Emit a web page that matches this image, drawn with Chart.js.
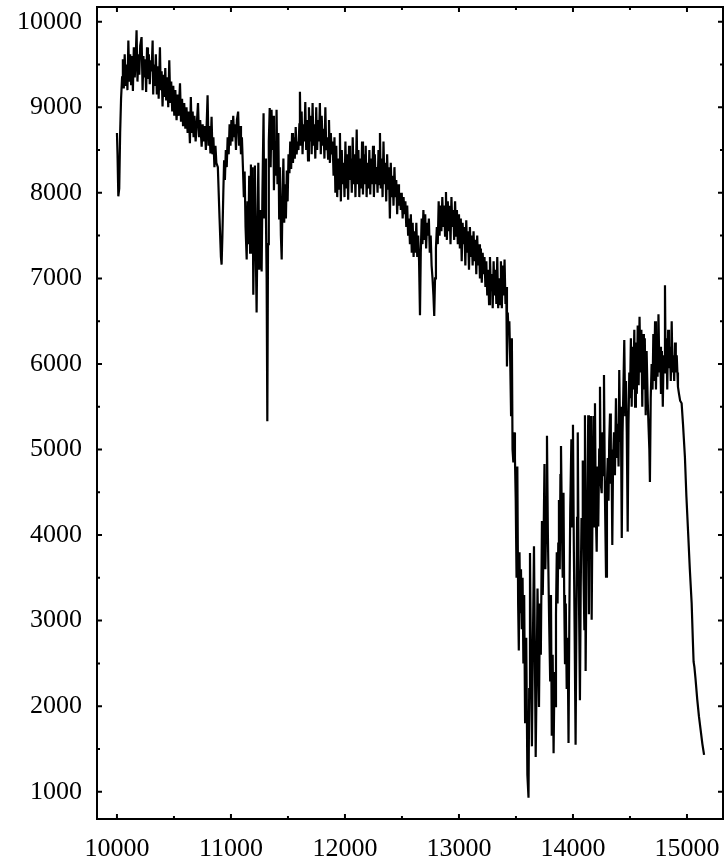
<!DOCTYPE html>
<html>
<head>
<meta charset="utf-8">
<title>Spectrum</title>
<script src="https://cdn.jsdelivr.net/npm/chart.js@4.4.1/dist/chart.umd.min.js"></script>
<style>
  html, body { margin: 0; padding: 0; background: #fff; overflow: hidden; }
  #wrap { width: 724px; height: 857px; }
</style>
</head>
<body>
<div id="wrap"><canvas id="spec" width="724" height="857"></canvas></div>
<script>
// DATA
const wavelength = [
  10000, 10005, 10012, 10020, 10028, 10036, 10045, 10052, 10060, 10068,
  10076, 10084, 10092, 10100, 10108, 10116, 10124, 10132, 10140, 10148,
  10156, 10164, 10172, 10180, 10188, 10196, 10204, 10216, 10225, 10232,
  10240, 10248, 10256, 10264, 10272, 10280, 10288, 10296, 10304, 10313,
  10318, 10325, 10333, 10341, 10350, 10358, 10366, 10377, 10384, 10392,
  10400, 10408, 10416, 10424, 10432, 10440, 10450, 10459, 10468, 10476,
  10485, 10494, 10503, 10512, 10523, 10532, 10541, 10553, 10562, 10571,
  10580, 10590, 10600, 10610, 10620, 10630, 10640, 10648, 10656, 10664,
  10672, 10680, 10690, 10700, 10711, 10720, 10730, 10743, 10752, 10760,
  10770, 10780, 10795, 10803, 10812, 10820, 10830, 10838, 10846, 10855,
  10864, 10872, 10885, 10900, 10912, 10918, 10925, 10933, 10940, 10947,
  10955, 10963, 10971, 10980, 10988, 10996, 11004, 11012, 11020, 11028,
  11036, 11044, 11052, 11063, 11071, 11080, 11088, 11096, 11105, 11113,
  11120, 11128, 11138, 11145, 11152, 11160, 11168, 11175, 11182, 11190,
  11196, 11203, 11210, 11218, 11225, 11232, 11240, 11248, 11255, 11262,
  11269, 11276, 11286, 11292, 11300, 11307, 11313, 11319, 11325, 11332,
  11340, 11348, 11356, 11364, 11372, 11377, 11385, 11393, 11400, 11408,
  11416, 11423, 11430, 11438, 11445, 11452, 11460, 11467, 11475, 11482,
  11490, 11497, 11505, 11513, 11520, 11528, 11536, 11544, 11552, 11560,
  11568, 11576, 11584, 11592, 11600, 11605, 11612, 11620, 11628, 11636,
  11644, 11652, 11660, 11668, 11676, 11684, 11692, 11700, 11708, 11716,
  11724, 11732, 11740, 11748, 11756, 11764, 11772, 11780, 11788, 11796,
  11804, 11812, 11820, 11828, 11836, 11844, 11852, 11860, 11868, 11876,
  11884, 11892, 11900, 11908, 11916, 11924, 11932, 11940, 11948, 11956,
  11964, 11972, 11980, 11988, 11996, 12004, 12012, 12020, 12028, 12036,
  12044, 12052, 12060, 12068, 12076, 12084, 12092, 12103, 12110, 12118,
  12126, 12134, 12142, 12150, 12158, 12166, 12174, 12182, 12190, 12198,
  12206, 12214, 12222, 12230, 12238, 12246, 12254, 12262, 12270, 12278,
  12286, 12294, 12300, 12307, 12314, 12322, 12330, 12338, 12346, 12354,
  12362, 12370, 12378, 12386, 12394, 12402, 12410, 12418, 12426, 12434,
  12442, 12450, 12458, 12466, 12474, 12482, 12490, 12498, 12506, 12514,
  12522, 12530, 12538, 12546, 12554, 12562, 12570, 12578, 12586, 12594,
  12602, 12610, 12618, 12626, 12634, 12642, 12650, 12658, 12665, 12673,
  12680, 12688, 12696, 12704, 12712, 12720, 12728, 12736, 12744, 12752,
  12760, 12768, 12776, 12783, 12790, 12798, 12806, 12814, 12822, 12830,
  12838, 12846, 12854, 12862, 12870, 12878, 12886, 12894, 12902, 12910,
  12918, 12926, 12934, 12942, 12950, 12958, 12966, 12974, 12982, 12990,
  13000, 13008, 13016, 13024, 13032, 13040, 13048, 13056, 13064, 13072,
  13080, 13088, 13096, 13104, 13112, 13120, 13128, 13136, 13144, 13152,
  13160, 13168, 13176, 13184, 13192, 13200, 13208, 13216, 13224, 13232,
  13240, 13248, 13256, 13264, 13272, 13280, 13288, 13296, 13304, 13312,
  13320, 13328, 13336, 13344, 13352, 13360, 13368, 13376, 13384, 13392,
  13400, 13408, 13415, 13421, 13428, 13435, 13442, 13450, 13457, 13464,
  13470, 13477, 13484, 13491, 13498, 13505, 13512, 13519, 13525, 13531,
  13537, 13544, 13551, 13558, 13565, 13572, 13580, 13590, 13600, 13610,
  13616, 13623, 13632, 13640, 13649, 13658, 13666, 13673, 13681, 13689,
  13696, 13702, 13710, 13718, 13728, 13735, 13742, 13750, 13758, 13765,
  13772, 13780, 13790, 13800, 13807, 13814, 13822, 13830, 13838, 13845,
  13851, 13858, 13865, 13871, 13877, 13884, 13890, 13895, 13903, 13910,
  13917, 13923, 13930, 13937, 13945, 13953, 13961, 13968, 13976, 13986,
  13992, 14000, 14008, 14015, 14023, 14030, 14036, 14042, 14050, 14056,
  14061, 14068, 14075, 14080, 14086, 14093, 14100, 14105, 14111, 14118,
  14127, 14134, 14140, 14146, 14152, 14158, 14164, 14172, 14180, 14186,
  14193, 14200, 14208, 14215, 14222, 14230, 14237, 14244, 14252, 14260,
  14265, 14272, 14280, 14290, 14298, 14305, 14312, 14318, 14325, 14332,
  14338, 14345, 14352, 14360, 14368, 14377, 14385, 14392, 14400, 14406,
  14414, 14420, 14428, 14435, 14442, 14450, 14458, 14465, 14472, 14480,
  14487, 14494, 14500, 14508, 14515, 14522, 14530, 14538, 14545, 14552,
  14560, 14568, 14576, 14584, 14592, 14600, 14608, 14615, 14622, 14630,
  14638, 14646, 14655, 14662, 14670, 14675, 14682, 14690, 14698, 14705,
  14712, 14720, 14728, 14735, 14742, 14750, 14758, 14765, 14772, 14780,
  14788, 14795, 14800, 14807, 14813, 14820, 14827, 14835, 14842, 14850,
  14858, 14866, 14873, 14880, 14888, 14895, 14902, 14910, 14916, 14921,
  14930, 14940, 14953, 14965, 14982, 14995, 15012, 15025, 15041, 15052,
  15058, 15065, 15075, 15090, 15105, 15120, 15135, 15150
];

const flux = [
  8700, 8450, 7960, 8050, 8700, 9100, 9350, 9560, 9220, 9620,
  9250, 9500, 9200, 9780, 9300, 9620, 9270, 9600, 9190, 9700,
  9350, 9550, 9900, 9300, 9620, 9380, 9720, 9820, 9200, 9600,
  9350, 9560, 9180, 9700, 9330, 9620, 9270, 9550, 9420, 9780,
  9150, 9500, 9250, 9620, 9150, 9480, 9100, 9700, 9200, 9420,
  9010, 9380, 9120, 9460, 9080, 9350, 9000, 9550, 9050, 9300,
  8950, 9250, 8900, 9200, 8850, 9150, 8900, 9280, 8830, 9100,
  8780, 9050, 8750, 9000, 8700, 8950, 8580, 9120, 8700, 8950,
  8650, 8900, 8600, 8800, 9050, 8650, 8850, 8540, 8800, 8600,
  8780, 8500, 9140, 8550, 8780, 8460, 8890, 8450, 8650, 8300,
  8550, 8350, 8300, 7700, 7250, 7160, 7500, 8000, 8380, 8150,
  8500, 8300, 8650, 8450, 8800, 8550, 8850, 8600, 8900, 8650,
  8800, 8500, 8850, 8950, 8550, 8780, 8450, 8650, 8300, 7950,
  8250, 7600, 7220, 7900, 7400, 8200, 7300, 8330, 7450, 8300,
  6810, 7600, 8320, 7300, 6600, 7500, 8350, 7100, 7800, 7300,
  7080, 8000, 8930, 7700, 8400, 7700, 7000, 5330, 7400, 8600,
  8990, 8300, 8970, 8500, 8900, 8030, 8600, 8200, 8970, 8100,
  8700, 7700, 8300, 7500, 7220, 7900, 8400, 7650, 8100, 7700,
  8260, 7900, 8450, 8230, 8600, 8280, 8700, 8350, 8650, 8400,
  8770, 8450, 8600, 8500, 8800, 9180, 8550, 8950, 8450, 8800,
  8600, 9060, 8500, 8850, 8380, 9000, 8600, 8900, 8450, 9050,
  8550, 8800, 8400, 9000, 8500, 8850, 8600, 9050, 8450, 8900,
  8550, 8750, 8400, 9000, 8500, 8650, 8400, 8850, 8350, 8700,
  8450, 8600, 8200, 8650, 8000, 8550, 7950, 8400, 8050, 8700,
  7900, 8500, 8100, 8350, 7950, 8600, 8050, 8450, 7920, 8550,
  8150, 8400, 8000, 8650, 8100, 8450, 7950, 8740, 8100, 8500,
  7950, 8400, 8050, 8600, 7980, 8450, 8100, 8550, 7950, 8350,
  8050, 8500, 7980, 8400, 8100, 8550, 7950, 8450, 8100, 8300,
  8000, 8500, 8100, 8700, 8050, 8400, 7950, 8600, 8100, 8350,
  7900, 8450, 8050, 8300, 7700, 8350, 7950, 8200, 7850, 8300,
  7950, 8150, 7750, 8100, 7850, 8000, 7800, 8000, 7700, 7950,
  7750, 7900, 7600, 7850, 7500, 7700, 7400, 7750, 7300, 7650,
  7250, 7550, 7300, 7650, 7250, 7500, 7200, 6570, 7300, 7700,
  7400, 7800, 7450, 7750, 7350, 7650, 7500, 7700, 7300, 7500,
  7150, 7000, 6800, 6560, 7000, 7350, 7600, 7400, 7900, 7500,
  7850, 7550, 7950, 7600, 7850, 7500, 8010, 7450, 7900, 7550,
  7850, 7400, 7950, 7600, 7800, 7450, 7900, 7500, 7800, 7400,
  7750, 7350, 7700, 7200, 7650, 7400, 7600, 7150, 7680, 7300,
  7550, 7100, 7600, 7250, 7500, 7150, 7550, 7200, 7450, 7050,
  7500, 7150, 7400, 7000, 7350, 6950, 7300, 7050, 7250, 6900,
  7200, 6800, 7100, 6700, 7250, 6850, 7050, 6650, 7200, 6800,
  7100, 6700, 7250, 6650, 7000, 6700, 7200, 6650, 7150, 6800,
  7220, 6700, 6900, 5970, 6600, 6350, 6500, 6000, 5400, 6300,
  5000, 4850, 5200, 4900, 4400, 3500, 4800, 3200, 2650, 3800,
  3100, 3600, 2900, 3500, 2500, 3300, 1800, 2800, 1200, 930,
  2200, 3790, 2400, 1530, 2800, 3870, 2600, 1405, 2300, 3375,
  2700, 1990, 3200, 2600, 4165, 3300, 3900, 4830, 3600, 4200,
  5160, 4000, 3075, 2300, 3300, 1655, 2600, 1450, 2400, 2000,
  3075, 3800, 3200, 3900, 4410, 3600, 4700, 5040, 4100, 3500,
  4495, 3300, 2490, 3200, 2200, 2800, 1570, 3000, 4300, 5120,
  4100, 5290, 3800, 2800, 1550, 3000, 4200, 5200, 3600, 2800,
  2070, 3400, 4200, 3900, 4870, 3500, 2900, 5400, 2410, 3600,
  4620, 5400, 3075, 4500, 3800, 5390, 3010, 4400, 5390, 4100,
  5540, 4300, 3805, 4800, 4100, 5000, 5733, 4600, 4490, 5200,
  4700, 5870, 4500, 3513, 4600, 4900, 4400, 5100, 5420, 4600,
  5000, 3885, 4900, 5200, 4700, 5600, 4900, 5300, 4800, 5930,
  5100, 5500, 3965, 5200, 5700, 6280, 5400, 5800, 5200, 4040,
  5300, 5900, 5600, 6300, 5500, 6200, 5700, 6400, 5500, 6250,
  5650, 6450, 5750, 6550, 5900, 6400, 5500, 6350, 5700, 6300,
  5400, 6150, 5600, 5300, 5000, 4620, 5600, 6000, 5700, 6350,
  5800, 6500, 5700, 6300, 5850, 6580, 5900, 6200, 5650, 6150,
  5500, 6100, 5900, 6920, 5950, 6300, 5700, 6400, 5950, 6200,
  5800, 6500, 5900, 6100, 5800, 6250, 5900, 6100, 5900, 5730,
  5650, 5570, 5540, 5300, 4910, 4450, 3975, 3600, 3205, 2750,
  2520, 2460, 2320, 2080, 1880, 1720, 1560, 1430
];

// TICKS
const xTicks = [10000, 11000, 12000, 13000, 14000, 15000];
const xMinor = [10500, 11500, 12500, 13500, 14500];
const yTicks = [1000, 2000, 3000, 4000, 5000, 6000, 7000, 8000, 9000, 10000];
const yMinor = [1500, 2500, 3500, 4500, 5500, 6500, 7500, 8500, 9500];

Chart.defaults.font.family = "'Liberation Serif', 'Times New Roman', serif";
Chart.defaults.color = "#000";

// inward ticks on all four sides + frame
const frameTicks = {
    id: "frameTicks",
    afterDraw(chart) {
        const { ctx, chartArea: a, scales } = chart;
        const sx = scales.x, sy = scales.y;
        ctx.save();
        ctx.strokeStyle = "#000";
        ctx.lineWidth = 2;
        ctx.beginPath();
        const tickX = (v, len) => {
            const p = sx.getPixelForValue(v);
            ctx.moveTo(p, a.bottom); ctx.lineTo(p, a.bottom - len);
            ctx.moveTo(p, a.top); ctx.lineTo(p, a.top + len);
        };
        const tickY = (v, len) => {
            const p = sy.getPixelForValue(v);
            ctx.moveTo(a.left, p); ctx.lineTo(a.left + len, p);
            ctx.moveTo(a.right, p); ctx.lineTo(a.right - len, p);
        };
        xTicks.forEach(v => tickX(v, 5));
        xMinor.forEach(v => tickX(v, 3));
        yTicks.forEach(v => tickY(v, 5));
        yMinor.forEach(v => tickY(v, 3));
        ctx.stroke();
        ctx.strokeRect(a.left, a.top, a.right - a.left, a.bottom - a.top);
        ctx.restore();
    }
};

const ctx = document.getElementById("spec").getContext("2d");
new Chart(ctx, {
    type: "line",
    data: {
        datasets: [{
            data: wavelength.map((w, i) => ({ x: w, y: flux[i] })),
            borderColor: "#000",
            borderWidth: 2.2,
            pointRadius: 0,
            tension: 0,
            fill: false
        }]
    },
    options: {
        responsive: false,
        animation: false,
        layout: { padding: { top: 7, right: 1, left: 0, bottom: 0 } },
        plugins: {
            legend: { display: false },
            tooltip: { enabled: false }
        },
        scales: {
            x: {
                type: "linear",
                min: 9825,
                max: 15316,
                grid: { display: false, drawTicks: false },
                border: { display: false },
                ticks: {
                    autoSkip: false,
                    maxRotation: 0,
                    padding: 15,
                    font: { size: 26 },
                    callback: v => String(v)
                },
                afterBuildTicks: s => { s.ticks = xTicks.map(v => ({ value: v })); },
                afterFit: s => {
                    s.height = 38;
                    s.paddingLeft = 0;
                    s.paddingRight = 0;
                }
            },
            y: {
                type: "linear",
                min: 681,
                max: 10172,
                grid: { display: false, drawTicks: false },
                border: { display: false },
                ticks: {
                    autoSkip: false,
                    padding: 15,
                    font: { size: 26 },
                    callback: v => String(v)
                },
                afterBuildTicks: s => { s.ticks = yTicks.map(v => ({ value: v })); },
                afterFit: s => {
                    s.width = 97;
                    s.paddingTop = 0;
                    s.paddingBottom = 0;
                }
            }
        }
    },
    plugins: [frameTicks]
});
</script>
</body>
</html>
